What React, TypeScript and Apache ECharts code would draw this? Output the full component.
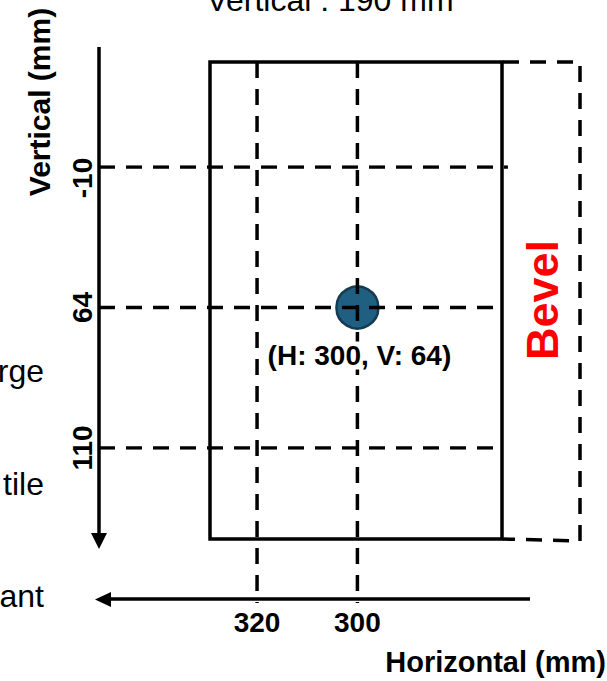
import React, { useEffect, useRef } from "react";
import * as echarts from "echarts";

// ---- data ----
const verticalCategories = ["-10", "64", "110"]; // vertical positions (mm), top to bottom
const guideEndH = [270, 272, 271]; // horizontal value where each horizontal guide ends (right side)
const horizontalTicks = [320, 300]; // horizontal positions (mm)
const pointH = [300];
const pointV = ["64"];
const hAxisMin = 266;
const hAxisMax = 351.5;
const sideTexts = ["rge", "tile", "ant"];
const topText = "Vertical : 190 mm";
const verticalName = "Vertical (mm)";
const horizontalName = "Horizontal (mm)";
const bevelText = "Bevel";

const FONT = "'Liberation Sans', Arial, Helvetica, sans-serif";
const DASH = [16, 11];
const LW = 3.5;

function txt(text: string, x: number, y: number, o: any) {
  return {
    type: "text",
    x,
    y,
    rotation: o.rotation || 0,
    z: 10,
    silent: true,
    style: {
      text,
      fontFamily: FONT,
      fontSize: o.size,
      fontWeight: o.weight || "normal",
      fill: o.color || "#000",
      align: o.align || "center",
      textAlign: o.align || "center",
      verticalAlign: "middle",
      textVerticalAlign: "middle",
    },
  };
}

export default function App() {
  const ref = useRef<HTMLDivElement>(null);
  useEffect(() => {
    const chart = echarts.init(ref.current!, null, { renderer: "svg" });

    const hGuides = verticalCategories.map((c, i) => ({
      type: "line",
      xAxisIndex: 0,
      yAxisIndex: 0,
      data: [
        [hAxisMax, c],
        [guideEndH[i], c],
      ],
      symbol: "none",
      z: 3,
      silent: true,
      lineStyle: { color: "#000", width: LW, type: DASH },
    }));

    const vGuides = horizontalTicks.map((h) => ({
      type: "line",
      xAxisIndex: 1,
      yAxisIndex: 1,
      data: [
        [h, 1],
        [h, 0],
      ],
      symbol: "none",
      z: 3,
      silent: true,
      lineStyle: { color: "#000", width: LW, type: DASH },
    }));

    const pts = pointH.map((h, i) => [h, pointV[i]]);
    const labelFont = { fontFamily: FONT, fontSize: 28, fontWeight: "bold", color: "#000" };

    const option: any = {
      animation: false,
      backgroundColor: "#ffffff",
      grid: [
        { left: 99, width: 429, top: 167, height: 281, outerBoundsMode: "none" },
        { left: 99, width: 429, top: 62, height: 541, outerBoundsMode: "none" },
      ],
      xAxis: [
        {
          type: "value",
          gridIndex: 0,
          inverse: true,
          min: hAxisMin,
          max: hAxisMax,
          position: "bottom",
          offset: 151,
          splitLine: { show: false },
          axisLine: { show: false },
          axisTick: { show: false },
          axisLabel: {
            customValues: horizontalTicks,
            margin: 9,
            ...labelFont,
          },
        },
        {
          type: "value",
          gridIndex: 1,
          inverse: true,
          min: hAxisMin,
          max: hAxisMax,
          show: false,
        },
      ],
      yAxis: [
        {
          type: "category",
          gridIndex: 0,
          data: verticalCategories,
          inverse: true,
          boundaryGap: false,
          axisLine: { show: false },
          axisTick: { show: false },
          splitLine: { show: false },
          axisLabel: {
            interval: 0,
            hideOverlap: false,
            rotate: 90,
            margin: 3,
            ...labelFont,
            formatter: (v: string, i: number) => (i === 0 ? `{low|${v}}` : v),
            rich: { low: { ...labelFont, padding: [0, 22, 0, 0] } },
          },
        },
        { type: "value", gridIndex: 1, min: 0, max: 1, show: false },
      ],
      graphic: [
        // frame
        {
          type: "rect",
          z: 1,
          silent: true,
          shape: { x: 210, y: 62, width: 292, height: 477 },
          style: { fill: "none", stroke: "#000", lineWidth: LW },
        },
        {
          type: "polyline",
          z: 1,
          silent: true,
          shape: { points: [[503, 62], [580, 62], [580, 541], [503, 539]] },
          style: { fill: "none", stroke: "#000", lineWidth: LW, lineDash: [16, 11] },
        },
        // vertical arrow
        {
          type: "line",
          z: 1,
          silent: true,
          shape: { x1: 99, y1: 47, x2: 99, y2: 536 },
          style: { stroke: "#000", lineWidth: LW },
        },
        {
          type: "polygon",
          z: 1,
          silent: true,
          shape: { points: [[99, 549], [91, 533], [107, 533]] },
          style: { fill: "#000" },
        },
        // horizontal arrow
        {
          type: "line",
          z: 1,
          silent: true,
          shape: { x1: 108, y1: 599, x2: 530, y2: 599 },
          style: { stroke: "#000", lineWidth: LW },
        },
        {
          type: "polygon",
          z: 1,
          silent: true,
          shape: { points: [[95, 599.5], [111, 592], [111, 607]] },
          style: { fill: "#000" },
        },
        txt(topText, 330, 0, { size: 32 }),
        txt(verticalName, 39, 102, { size: 30, weight: "bold", rotation: Math.PI / 2 }),
        txt(horizontalName, 606, 662, { size: 29, weight: "bold", align: "right" }),
        txt(bevelText, 542, 300, { size: 45, weight: "bold", color: "#ff0000", rotation: Math.PI / 2 }),
        txt(sideTexts[0], 44, 371, { size: 32, align: "right" }),
        txt(sideTexts[1], 44, 484, { size: 32, align: "right" }),
        txt(sideTexts[2], 44, 596, { size: 32, align: "right" }),
      ],
      series: [
        {
          type: "scatter",
          xAxisIndex: 0,
          yAxisIndex: 0,
          data: pts,
          symbol: "circle",
          symbolSize: 42,
          z: 2,
          silent: true,
          itemStyle: { color: "#1f5f82", borderColor: "#163a50", borderWidth: 2.5, opacity: 1 },
        },
        ...hGuides,
        ...vGuides,
        {
          type: "scatter",
          xAxisIndex: 0,
          yAxisIndex: 0,
          data: pts,
          symbol: "circle",
          symbolSize: 42,
          z: 5,
          silent: true,
          itemStyle: { color: "rgba(0,0,0,0)", opacity: 1 },
          label: {
            show: true,
            position: "bottom",
            distance: 13,
            offset: [2, 0],
            formatter: (p: any) => `(H: ${p.value[0]}, V: ${p.value[1]})`,
            ...labelFont,
            opacity: 1,
            backgroundColor: "#ffffff",
          },
        },
      ],
    };
    chart.setOption(option);
    return () => chart.dispose();
  }, []);
  return (
    <div
      ref={ref}
      style={{ position: "fixed", left: 0, top: 0, width: 607, height: 681 }}
    />
  );
}
